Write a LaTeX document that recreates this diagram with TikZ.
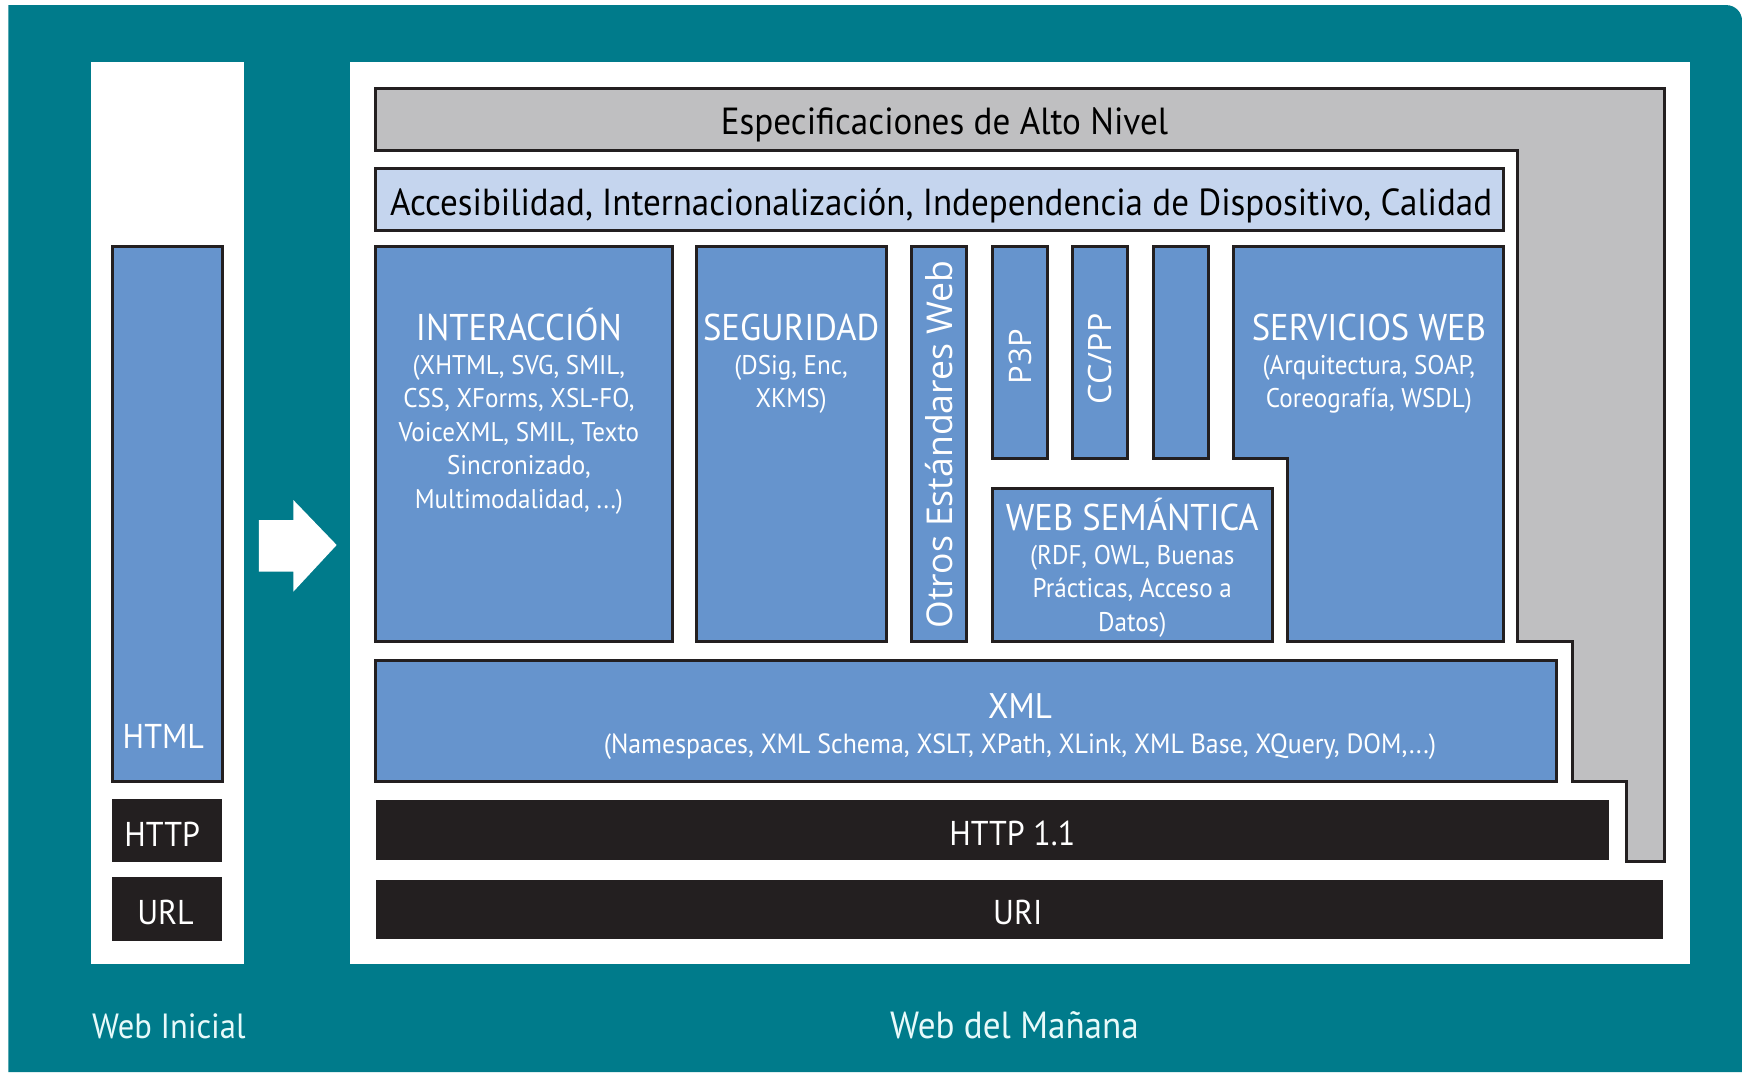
\documentclass[tikz,border=0pt]{standalone}
\usepackage{fontspec}
\setmainfont{PT Sans}[FakeStretch=0.93]
\newfontfamily\widefont{Open Sans}
\definecolor{tealbg}{RGB}{0,123,139}
\definecolor{graybox}{RGB}{191,191,193}
\definecolor{lightbar}{RGB}{197,213,238}
\definecolor{bluebox}{RGB}{102,148,205}
\definecolor{darkline}{RGB}{35,31,32}
\definecolor{paletext}{RGB}{232,250,250}
\tikzset{
  edge/.style={draw=darkline, line width=2.7pt, line join=miter},
  bluebx/.style={edge, fill=bluebox},
  blackbar/.style={fill=darkline},
  wt/.style={text=white, inner sep=0pt, anchor=base},
  ttl/.style={wt, font=\fontsize{31}{31}\selectfont},
  boxttl/.style={wt, font=\fontsize{33.5}{33.5}\selectfont},
  sub/.style={wt, font=\fontsize{24.3}{24.3}\selectfont},
  bigblack/.style={text=black, inner sep=0pt, anchor=base},
  rot/.style={text=white, inner sep=0pt, rotate=90, font=\widefont\fontsize{32}{32}\selectfont},
  caption/.style={text=paletext, inner sep=0pt, anchor=base, font=\fontsize{31.5}{31.5}\selectfont}
}
\begin{document}
\begin{tikzpicture}[x=1pt,y=-1pt]
\useasboundingbox (0,0) rectangle (1567.8,964.8);
\fill[white] (0,0) rectangle (1567.8,964.8);
% teal background
\fill[tealbg] (7.5,964.8) -- (7.5,4.6) [rounded corners=14pt] -- (1567.8,4.6) [sharp corners] -- (1567.8,964.8) -- cycle;
% white panels
\fill[white] (82,56) rectangle (220,868);
\fill[white] (315,56) rectangle (1521,868);
% arrow
\fill[white] (233,468) -- (264,468) -- (264,450) -- (303,490.5) -- (264,532.5) -- (264,514.5) -- (233,514.5) -- cycle;
% left stack
\draw[bluebx] (101,222) rectangle (200,703);
\fill[blackbar] (101,719) rectangle (200,776);
\fill[blackbar] (101,789) rectangle (200,847);
% gray L shape
\draw[edge, fill=graybox] (338,80) -- (1498,80) -- (1498,775) -- (1464,775) -- (1464,703) -- (1415,703) -- (1415,577) -- (1366,577) -- (1366,135) -- (338,135) -- cycle;
% light bar
\draw[edge, fill=lightbar] (338,152) rectangle (1353,207);
% blue boxes
\draw[bluebx] (338,222) rectangle (605,577);
\draw[bluebx] (627,222) rectangle (798,577);
\draw[bluebx] (820,222) rectangle (870,577);
\draw[bluebx] (893,222) rectangle (943,413);
\draw[bluebx] (965,222) rectangle (1015,413);
\draw[bluebx] (1038,222) rectangle (1088,413);
\draw[bluebx] (1110,222) -- (1353,222) -- (1353,577) -- (1159,577) -- (1159,413) -- (1110,413) -- cycle;
\draw[bluebx] (893,440) rectangle (1145,577);
\draw[bluebx] (338,594) rectangle (1401,703);
% black bars
\fill[blackbar] (338,720) rectangle (1448,774);
\fill[blackbar] (338,792) rectangle (1497,845);
% texts
\node[bigblack, font=\fontsize{34}{34}\selectfont] (esp) at (850,121) {Especificaciones de Alto Nivel};
\node[bigblack, font=\fontsize{33.9}{33.9}\selectfont] (acc) at (847,194) {Accesibilidad, Internacionalización, Independencia de Dispositivo, Calidad};
\node[boxttl] (intT) at (467,306) {INTERACCIÓN};
\node[sub] (int1) at (467,337) {(XHTML, SVG, SMIL,};
\node[sub] (int2) at (467,367) {CSS, XForms, XSL-FO,};
\node[sub] (int3) at (467,397) {VoiceXML, SMIL, Texto};
\node[sub] (int4) at (467,427) {Sincronizado,};
\node[sub] (int5) at (467,458) {Multimodalidad, ...)};
\node[boxttl] (segT) at (712,306) {SEGURIDAD};
\node[sub] (seg1) at (712,337) {(DSig, Enc,};
\node[sub] (seg2) at (712,367) {XKMS)};
\node[rot] (otros) at (845,400) {Otros Estándares Web};
\node[rot, font=\widefont\fontsize{28}{28}\selectfont] (p3p) at (918,321) {P3P};
\node[rot, font=\widefont\fontsize{29}{29}\selectfont] (ccpp) at (990,323) {CC/PP};
\node[boxttl] (srvT) at (1232,306) {SERVICIOS WEB};
\node[sub] (srv1) at (1232,337) {(Arquitectura, SOAP,};
\node[sub] (srv2) at (1232,367) {Coreografía, WSDL)};
\node[boxttl] (semT) at (1019,477) {WEB SEMÁNTICA};
\node[sub] (sem1) at (1019,508) {(RDF, OWL, Buenas};
\node[sub] (sem2) at (1019,538) {Prácticas, Acceso a};
\node[sub] (sem3) at (1019,568) {Datos)};
\node[ttl, font=\fontsize{32}{32}\selectfont] (xmlT) at (918,647) {XML};
\node[sub, font=\fontsize{25}{25}\selectfont] (xml1) at (918,678) {(Namespaces, XML Schema, XSLT, XPath, XLink, XML Base, XQuery, DOM,...)};
\node[ttl] (http11) at (911,761) {HTTP 1.1};
\node[ttl] (uri) at (916,832) {URI};
\node[ttl] (html) at (147,674) {HTML};
\node[ttl] (http) at (146,762) {HTTP};
\node[ttl] (url) at (149,832) {URL};
\node[caption] (webini) at (152,935) {Web Inicial};
\node[caption, font=\fontsize{34}{34}\selectfont] (webman) at (913,935) {Web del Mañana};
\end{tikzpicture}
\end{document}
